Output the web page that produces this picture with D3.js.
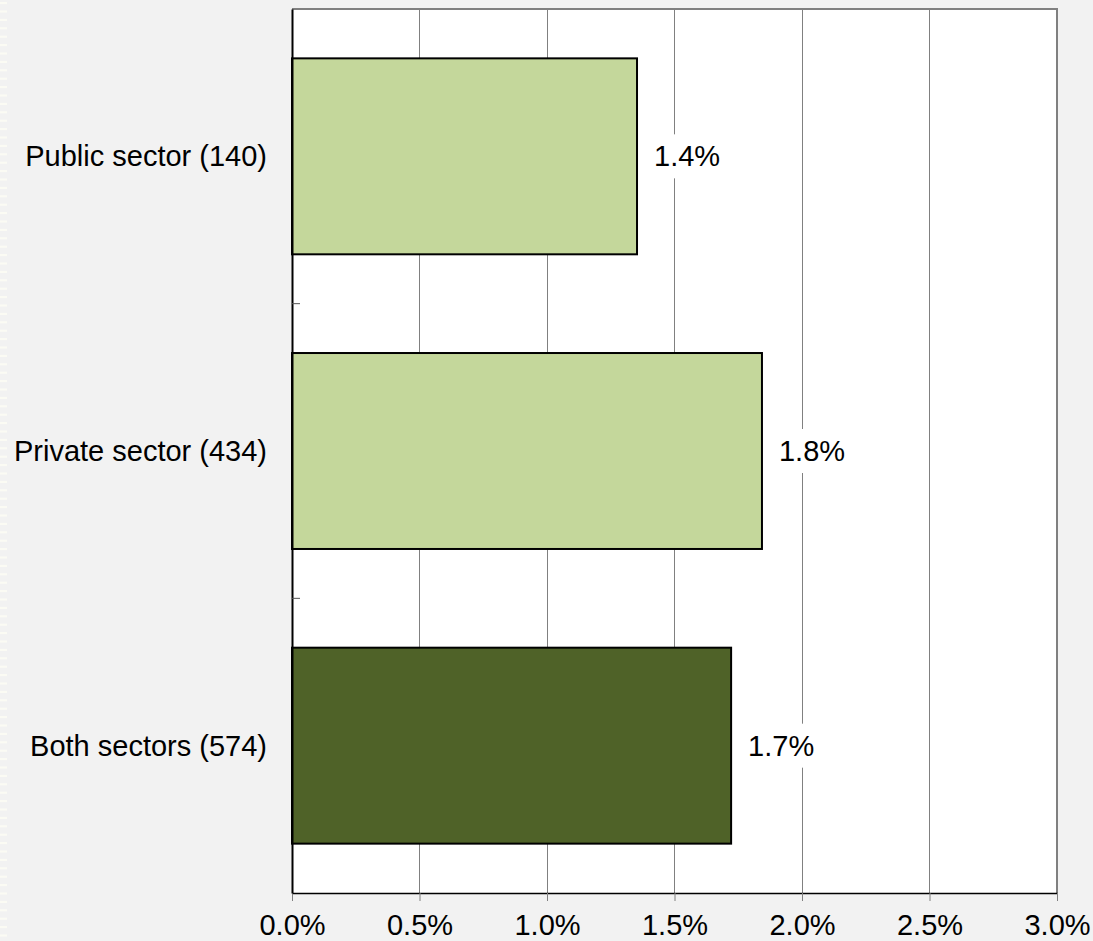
<!DOCTYPE html>
<html>
<head>
<meta charset="utf-8">
<script src="https://cdn.jsdelivr.net/npm/d3@7"></script>
<style>
  html, body { margin: 0; padding: 0; background: #f2f2f2; }
  svg { display: block; }
  text { font-family: "Liberation Sans", Arial, sans-serif; fill: #000; }
</style>
</head>
<body>
<svg id="chart" width="1093" height="941"></svg>
<script>
// Share of staff by sector
const categories = ["Public sector (140)", "Private sector (434)", "Both sectors (574)"];
const values = [0.01353, 0.01843, 0.01722];
const barColors = ["#c4d79b", "#c4d79b", "#4f6228"];
const xTicks = [0, 0.005, 0.01, 0.015, 0.02, 0.025, 0.03];

const W = 1093, H = 941;
const FS = 29;
const plot = { left: 292, right: 1057, top: 9, bottom: 893 };

const svg = d3.select("#chart");

svg.append("rect").attr("width", W).attr("height", H).attr("fill", "#f2f2f2");

// faint striped strip along the left edge
const stripe = svg.append("g");
d3.range(2, H, 8.4).forEach(y => {
  stripe.append("rect").attr("x", 0).attr("y", y).attr("width", 7).attr("height", 2.2)
    .attr("fill", "#fbfbf4");
});

const x = d3.scaleLinear().domain([0, 0.03]).range([plot.left, plot.right]);
const y = d3.scaleBand().domain(categories).range([plot.top, plot.bottom]).paddingInner(0.335).paddingOuter(0.1675);
const pct = d3.format(".1%");

// plot area
svg.append("rect")
  .attr("x", plot.left).attr("y", plot.top)
  .attr("width", plot.right - plot.left).attr("height", plot.bottom - plot.top)
  .attr("fill", "#fff");

// vertical gridlines
svg.append("g").selectAll("line").data(xTicks.slice(1, -1)).join("line")
  .attr("x1", d => x(d)).attr("x2", d => x(d))
  .attr("y1", plot.top).attr("y2", plot.bottom)
  .attr("stroke", "#808080").attr("stroke-width", 1)
  .attr("shape-rendering", "crispEdges");

// top and right frame
svg.append("path")
  .attr("d", `M${plot.left},${plot.top}H${plot.right}V${plot.bottom}`)
  .attr("fill", "none").attr("stroke", "#808080").attr("stroke-width", 2);

// bars
svg.append("g").selectAll("rect").data(values).join("rect")
  .attr("x", x(0))
  .attr("y", (d, i) => y(categories[i]))
  .attr("width", d => x(d) - x(0))
  .attr("height", y.bandwidth())
  .attr("fill", (d, i) => barColors[i])
  .attr("stroke", "#000").attr("stroke-width", 2);

// value labels on white boxes
const labels = svg.append("g");
values.forEach((v, i) => {
  const cx = x(v) + 17;
  const cy = y(categories[i]) + y.bandwidth() / 2;
  const t = labels.append("text")
    .attr("x", cx).attr("y", cy).attr("dy", "0.35em")
    .attr("font-size", FS).text(pct(v));
  const bb = t.node().getBBox();
  labels.insert("rect", "text")
    .attr("x", bb.x - 8).attr("y", cy - 22)
    .attr("width", bb.width + 16).attr("height", 44)
    .attr("fill", "#fff");
});

// x axis
const xAxis = svg.append("g").attr("transform", `translate(0,${plot.bottom})`)
  .call(d3.axisBottom(x).tickValues(xTicks).tickFormat(pct).tickSize(8).tickSizeOuter(0));
xAxis.select(".domain").attr("stroke", "#000").attr("stroke-width", 1.5);
xAxis.selectAll(".tick line").attr("stroke", "#808080");
xAxis.selectAll(".tick text").attr("font-size", FS).attr("font-family", "Liberation Sans, Arial, sans-serif")
  .attr("fill", "#000").attr("y", 21).attr("dy", "0.71em");

// y axis
const yAxis = svg.append("g").attr("transform", `translate(${plot.left},0)`)
  .call(d3.axisLeft(y).tickSize(0).tickPadding(25));
yAxis.select(".domain").attr("stroke", "#000").attr("stroke-width", 2);
yAxis.selectAll(".tick text").attr("font-size", FS).attr("font-family", "Liberation Sans, Arial, sans-serif")
  .attr("fill", "#000").attr("dy", "0.35em");

// category separators on the y axis
const seps = categories.slice(1).map(c => y(c) - y.step() * y.paddingInner() / 2);
svg.append("g").selectAll("line").data(seps).join("line")
  .attr("x1", plot.left).attr("x2", plot.left + 8)
  .attr("y1", d => d).attr("y2", d => d)
  .attr("stroke", "#555").attr("stroke-width", 1);
</script>
</body>
</html>
